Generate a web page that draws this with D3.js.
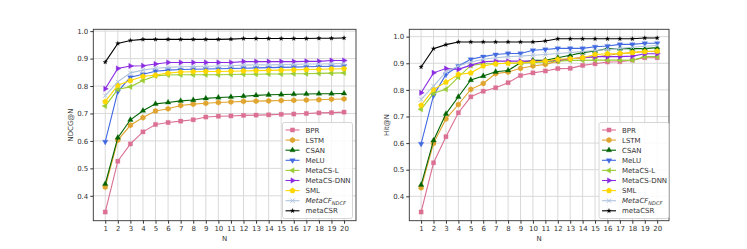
<!DOCTYPE html>
<html>
<head>
<meta charset="utf-8">
<script src="https://cdn.jsdelivr.net/npm/d3@7"></script>
<style>
  body { margin: 0; background: #fff; }
  svg { display: block; font-family: "DejaVu Sans", sans-serif; }
</style>
</head>
<body>
<svg id="chart" width="747" height="249"></svg>
<script>
// x positions
const nValues = d3.range(1, 21);

const seriesNames = ['BPR', 'LSTM', 'CSAN', 'MeLU', 'MetaCS-L', 'MetaCS-DNN', 'SML', 'MetaCF', 'metaCSR'];

// NDCG@N (left panel)
const ndcgBPR = [0.341, 0.526, 0.589, 0.633, 0.660, 0.667, 0.672, 0.677, 0.687, 0.690, 0.691, 0.693, 0.694, 0.695, 0.697, 0.698, 0.700, 0.702, 0.703, 0.705];
const ndcgLSTM = [0.432, 0.603, 0.657, 0.685, 0.709, 0.717, 0.729, 0.734, 0.737, 0.740, 0.742, 0.744, 0.745, 0.746, 0.747, 0.748, 0.749, 0.750, 0.752, 0.753];
const ndcgCSAN = [0.443, 0.612, 0.677, 0.710, 0.735, 0.740, 0.746, 0.749, 0.755, 0.758, 0.760, 0.763, 0.766, 0.768, 0.769, 0.770, 0.771, 0.772, 0.772, 0.773];
const ndcgMeLU = [0.597, 0.780, 0.832, 0.843, 0.854, 0.858, 0.860, 0.861, 0.862, 0.863, 0.864, 0.865, 0.866, 0.867, 0.868, 0.869, 0.870, 0.871, 0.872, 0.873];
const ndcgMetaCSL = [0.727, 0.788, 0.797, 0.820, 0.837, 0.840, 0.841, 0.841, 0.841, 0.841, 0.842, 0.843, 0.843, 0.844, 0.844, 0.845, 0.845, 0.846, 0.847, 0.848];
const ndcgMetaCSDNN = [0.790, 0.864, 0.873, 0.874, 0.880, 0.886, 0.886, 0.886, 0.886, 0.886, 0.886, 0.889, 0.889, 0.889, 0.889, 0.889, 0.890, 0.890, 0.893, 0.893];
const ndcgSML = [0.743, 0.803, 0.820, 0.835, 0.840, 0.847, 0.851, 0.852, 0.853, 0.853, 0.854, 0.855, 0.856, 0.857, 0.858, 0.859, 0.860, 0.861, 0.862, 0.863];
const ndcgMetaCF = [0.765, 0.815, 0.848, 0.858, 0.865, 0.868, 0.870, 0.871, 0.872, 0.873, 0.874, 0.876, 0.877, 0.877, 0.878, 0.879, 0.880, 0.880, 0.881, 0.882];
const ndcgMetaCSR = [0.887, 0.955, 0.966, 0.970, 0.970, 0.970, 0.970, 0.970, 0.970, 0.970, 0.971, 0.973, 0.973, 0.973, 0.973, 0.973, 0.973, 0.974, 0.974, 0.975];

// Hit@N (right panel)
const hitBPR = [0.341, 0.526, 0.624, 0.714, 0.774, 0.795, 0.808, 0.827, 0.854, 0.864, 0.871, 0.880, 0.881, 0.892, 0.898, 0.905, 0.906, 0.912, 0.921, 0.921];
const hitLSTM = [0.432, 0.599, 0.691, 0.745, 0.802, 0.824, 0.861, 0.867, 0.881, 0.890, 0.896, 0.908, 0.917, 0.921, 0.923, 0.930, 0.936, 0.940, 0.944, 0.944];
const hitCSAN = [0.443, 0.610, 0.710, 0.774, 0.837, 0.852, 0.868, 0.873, 0.902, 0.911, 0.911, 0.921, 0.930, 0.940, 0.946, 0.955, 0.955, 0.955, 0.955, 0.959];
const hitMeLU = [0.597, 0.779, 0.858, 0.890, 0.915, 0.925, 0.933, 0.937, 0.937, 0.949, 0.952, 0.956, 0.956, 0.956, 0.962, 0.965, 0.971, 0.971, 0.975, 0.975];
const hitMetaCSL = [0.727, 0.787, 0.802, 0.848, 0.892, 0.898, 0.898, 0.900, 0.900, 0.902, 0.905, 0.908, 0.911, 0.911, 0.912, 0.912, 0.912, 0.911, 0.925, 0.925];
const hitMetaCSDNN = [0.789, 0.864, 0.880, 0.877, 0.893, 0.906, 0.908, 0.908, 0.908, 0.908, 0.908, 0.912, 0.917, 0.921, 0.925, 0.925, 0.925, 0.927, 0.936, 0.936];
const hitSML = [0.742, 0.802, 0.829, 0.858, 0.864, 0.890, 0.898, 0.900, 0.902, 0.905, 0.908, 0.915, 0.917, 0.921, 0.933, 0.936, 0.937, 0.940, 0.944, 0.946];
const hitMetaCF = [0.764, 0.814, 0.867, 0.890, 0.905, 0.915, 0.921, 0.925, 0.927, 0.930, 0.933, 0.937, 0.940, 0.944, 0.948, 0.952, 0.956, 0.960, 0.964, 0.967];
const hitMetaCSR = [0.886, 0.955, 0.970, 0.980, 0.980, 0.980, 0.980, 0.980, 0.980, 0.980, 0.984, 0.992, 0.992, 0.992, 0.992, 0.992, 0.992, 0.992, 0.995, 0.995];

const yTicks = [0.4, 0.5, 0.6, 0.7, 0.8, 0.9, 1.0];

const colors = ['#db7093', '#e0a530', '#006400', '#4169e1', '#9acd32', '#8a2be2', '#ffd700', '#b0c4de', '#000000'];

// marker shapes
function polygon(n, r, rot) {
  const pts = d3.range(n).map(i => {
    const a = rot + i * 2 * Math.PI / n;
    return [r * Math.sin(a), -r * Math.cos(a)];
  });
  return 'M' + pts.map(p => p.join(',')).join('L') + 'Z';
}
const markers = [
  () => d3.symbol(d3.symbolSquare, 18)(),
  () => polygon(6, 2.8, 0),
  () => polygon(3, 3.2, 0),
  () => polygon(3, 3.2, Math.PI),
  () => polygon(3, 3.2, -Math.PI / 2),
  () => polygon(3, 3.2, Math.PI / 2),
  () => polygon(5, 2.9, 0),
  () => d3.symbol(d3.symbolX, 14)(),
  () => d3.symbol(d3.symbolStar, 6)()
];

const svg = d3.select('#chart');

function drawPanel(opts) {
  const { left, right, top, bottom, data, ylabel } = opts;
  const all = data.flat();
  const lo = d3.min(all), hi = d3.max(all);
  const pad = (hi - lo) * 0.05;

  const x = d3.scaleLinear().domain([1 - 0.95, 20 + 0.95]).range([left, right]);
  const y = d3.scaleLinear().domain([lo - pad, hi + pad]).range([bottom, top]);

  const g = svg.append('g');

  // grid
  g.append('g').selectAll('line').data(nValues).join('line')
    .attr('x1', d => x(d)).attr('x2', d => x(d))
    .attr('y1', top).attr('y2', bottom)
    .attr('stroke', '#d9d9d9').attr('stroke-width', 1);
  g.append('g').selectAll('line').data(yTicks).join('line')
    .attr('x1', left).attr('x2', right)
    .attr('y1', d => y(d)).attr('y2', d => y(d))
    .attr('stroke', '#d9d9d9').attr('stroke-width', 1);

  // axes
  const xAxis = d3.axisBottom(x).tickValues(nValues).tickSize(3).tickPadding(2).tickFormat(d3.format('d'));
  const yAxis = d3.axisLeft(y).tickValues(yTicks).tickSize(3).tickPadding(2).tickFormat(d3.format('.1f'));
  const gx = g.append('g').attr('transform', `translate(0,${bottom})`).call(xAxis);
  const gy = g.append('g').attr('transform', `translate(${left},0)`).call(yAxis);
  [gx, gy].forEach(a => {
    a.select('.domain').remove();
    a.selectAll('.tick line').attr('stroke', '#333');
    a.selectAll('.tick text').attr('fill', '#333').attr('font-size', 7).attr('font-family', 'DejaVu Sans');
  });

  // lines + markers
  const line = d3.line().x((d, i) => x(nValues[i])).y(d => y(d));
  data.forEach((vals, si) => {
    const s = g.append('g');
    s.append('path').datum(vals)
      .attr('fill', 'none').attr('stroke', colors[si]).attr('stroke-width', 1.1)
      .attr('d', line);
    const isX = si === 7;
    s.selectAll('path.m').data(vals).join('path').attr('class', 'm')
      .attr('transform', (d, i) => `translate(${x(nValues[i])},${y(d)})`)
      .attr('d', markers[si]())
      .attr('fill', isX ? 'none' : colors[si])
      .attr('stroke', colors[si])
      .attr('stroke-width', isX ? 1 : 0.3);
  });

  // frame
  g.append('rect').attr('x', left).attr('y', top)
    .attr('width', right - left).attr('height', bottom - top)
    .attr('fill', 'none').attr('stroke', '#333').attr('stroke-width', 0.9);

  // labels
  g.append('text').attr('x', (left + right) / 2).attr('y', 241)
    .attr('text-anchor', 'middle').attr('font-size', 7).attr('fill', '#333').text('N');
  g.append('text')
    .attr('transform', `translate(${opts.ylabelX},${(top + bottom) / 2}) rotate(-90)`)
    .attr('text-anchor', 'middle').attr('font-size', 7).attr('fill', '#333').text(ylabel);

  // legend
  const lx = opts.legendX, ly = 122.5, lw = 70, lh = 96;
  const lg = g.append('g');
  lg.append('rect').attr('x', lx).attr('y', ly).attr('width', lw).attr('height', lh)
    .attr('rx', 2).attr('fill', 'rgba(255,255,255,0.85)').attr('stroke', '#cccccc').attr('stroke-width', 0.8);
  seriesNames.forEach((name, si) => {
    const cy = 130 + si * 10.1;
    const row = lg.append('g');
    row.append('line').attr('x1', lx + 3).attr('x2', lx + 17).attr('y1', cy).attr('y2', cy)
      .attr('stroke', colors[si]).attr('stroke-width', 1.1);
    row.append('path').attr('transform', `translate(${lx + 10},${cy})`)
      .attr('d', markers[si]())
      .attr('fill', si === 7 ? 'none' : colors[si])
      .attr('stroke', colors[si]).attr('stroke-width', si === 7 ? 1 : 0.3);
    const t = row.append('text').attr('x', lx + 23).attr('y', cy + 2.5)
      .attr('font-size', 7).attr('fill', '#333');
    if (name === 'MetaCF') {
      t.append('tspan').attr('font-style', 'italic').text('MetaCF');
      t.append('tspan').attr('font-style', 'italic').attr('font-size', 5).attr('dy', 1.5).text('NDCF');
    } else {
      t.text(name);
    }
  });
}

drawPanel({
  left: 93.3, right: 356, top: 29.3, bottom: 220.7,
  data: [ndcgBPR, ndcgLSTM, ndcgCSAN, ndcgMeLU, ndcgMetaCSL, ndcgMetaCSDNN, ndcgSML, ndcgMetaCF, ndcgMetaCSR],
  ylabel: 'NDCG@N', ylabelX: 73, legendX: 282.5
});

drawPanel({
  left: 409.3, right: 669, top: 29.3, bottom: 220.7,
  data: [hitBPR, hitLSTM, hitCSAN, hitMeLU, hitMetaCSL, hitMetaCSDNN, hitSML, hitMetaCF, hitMetaCSR],
  ylabel: 'Hit@N', ylabelX: 389, legendX: 599
});
</script>
</body>
</html>
